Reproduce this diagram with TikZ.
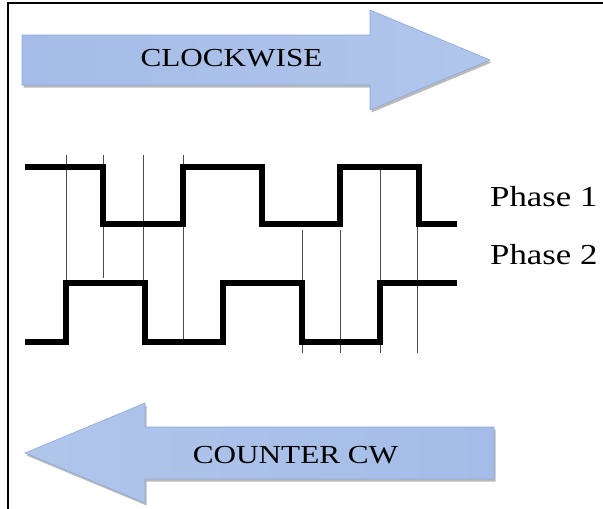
\documentclass[tikz,border=0pt]{standalone}
\usepackage{fontspec}
\setmainfont{Liberation Serif}
\usetikzlibrary{shadows}
\definecolor{arrdark}{RGB}{164,188,231}
\definecolor{arrlight}{RGB}{228,235,248}
\definecolor{arredge}{RGB}{140,168,220}
\begin{document}
\begin{tikzpicture}[x=1pt,y=-1pt,
  wave/.style={line width=5.4pt, line join=miter, line cap=butt, black},
  guide/.style={line width=0.9pt, black!70},
  bigarrow/.style={draw=arredge, line width=0.6pt, line join=miter,
    drop shadow={shadow xshift=1.5pt, shadow yshift=-2.5pt, opacity=0.45, fill=black!60}},
  cwfill/.style={left color=arrdark, middle color=arrlight, right color=arrdark!80!arrlight},
  ccwfill/.style={left color=arrdark!80!arrlight, middle color=arrlight, right color=arrdark},
  arrlabel/.style={font=\fontsize{26}{30}\selectfont, inner sep=0pt},
  phaselbl/.style={font=\fontsize{29}{33}\selectfont, inner sep=0pt, anchor=base west}]
\useasboundingbox (0,0) rectangle (603,509);
\fill[white] (0,0) rectangle (603,509);
% frame
\draw[line width=2pt] (8,509) -- (8,3) -- (603,3);
% clockwise arrow
\path[bigarrow, cwfill] (22,35) -- (370,35) -- (370,10) -- (490,60) -- (370,110) -- (370,85) -- (22,85) -- cycle;
\node[arrlabel] (cw) at (231.5,58.5) {\scalebox{1.2}[1]{CLOCKWISE}};
% counter clockwise arrow
\path[bigarrow, ccwfill] (494,427) -- (145,427) -- (145,403) -- (25,453) -- (145,503) -- (145,479) -- (494,479) -- cycle;
\node[arrlabel] (ccw) at (295.5,455) {\scalebox{1.2}[1]{COUNTER CW}};
% guide lines
\draw[guide] (66,155) -- (66,280);
\draw[guide] (103,155) -- (103,278);
\draw[guide] (143,155) -- (143,283);
\draw[guide] (183,155) -- (183,342);
\draw[guide] (302,230) -- (302,353);
\draw[guide] (340,230) -- (340,353);
\draw[guide] (380,170) -- (380,353);
\draw[guide] (417,170) -- (417,353);
% phase 1
\draw[wave] (25,167) -- (103,167) -- (103,224) -- (183,224) -- (183,167) -- (262,167) -- (262,224) -- (340,224) -- (340,167) -- (419,167) -- (419,224) -- (457,224);
% phase 2
\draw[wave] (25,342) -- (66,342) -- (66,283) -- (145,283) -- (145,342) -- (223,342) -- (223,283) -- (302,283) -- (302,342) -- (380,342) -- (380,283) -- (457,283);
% labels
\node[phaselbl] (p1) at (490,206) {\scalebox{1.2}[1]{Phase 1}};
\node[phaselbl] (p2) at (490,264) {\scalebox{1.2}[1]{Phase 2}};
\end{tikzpicture}
\end{document}
